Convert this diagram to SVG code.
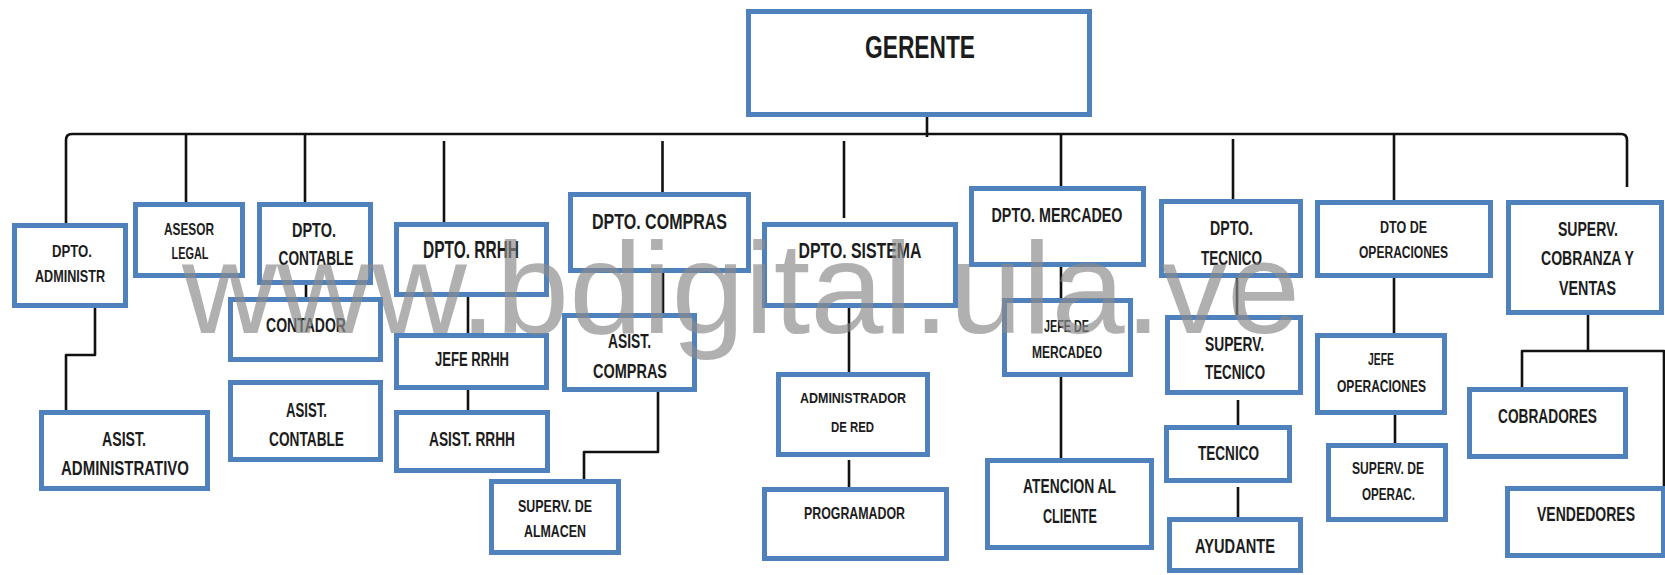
<svg xmlns="http://www.w3.org/2000/svg" width="1665" height="575" viewBox="0 0 1665 575">
<style>
.box{fill:#ffffff;stroke:#4f81bd;stroke-width:5}
.ln{fill:none;stroke:#111111;stroke-width:2.6;stroke-linejoin:round}
.t{font-family:"Liberation Sans",Arial,sans-serif;font-weight:bold;fill:#1c1c1c;text-anchor:middle}
.wm{font-family:"Liberation Sans",Arial,sans-serif;font-size:130px;fill:#8a8a8a;fill-opacity:0.68}
</style>
<rect width="1665" height="575" fill="#ffffff"/>
<g id="connectors">
<path class="ln" d="M66,223 V140 Q66,134 72,134 H1621 Q1627,134 1627,140 V187"/>
<path class="ln" d="M927,117 V137"/>
<path class="ln" d="M186,134 V203"/>
<path class="ln" d="M305,134 V203"/>
<path class="ln" d="M444,141 V223"/>
<path class="ln" d="M662.5,141 V193"/>
<path class="ln" d="M844,141 V218"/>
<path class="ln" d="M1061,134 V187"/>
<path class="ln" d="M1233,139 V200"/>
<path class="ln" d="M1394,134 V201"/>
<path class="ln" d="M95,307 V355 H66 V411"/>
<path class="ln" d="M306,283 V299"/>
<path class="ln" d="M468,297 V334"/>
<path class="ln" d="M468,385 V411"/>
<path class="ln" d="M663,273 V314"/>
<path class="ln" d="M658,392 V452 H584 V480"/>
<path class="ln" d="M849,307 V373"/>
<path class="ln" d="M849,460 V488"/>
<path class="ln" d="M1061,267 V299"/>
<path class="ln" d="M1061,377 V459"/>
<path class="ln" d="M1237,278 V316"/>
<path class="ln" d="M1238,400 V426"/>
<path class="ln" d="M1238,487 V518"/>
<path class="ln" d="M1394,278 V334"/>
<path class="ln" d="M1395,415 V444"/>
<path class="ln" d="M1588,314 V351 M1522,392 V351 H1664 V487"/>
</g>
<g id="gerente"><rect class="box" x="748.5" y="11.5" width="341" height="103"/><text class="t" x="920" y="58" font-size="32" textLength="110" lengthAdjust="spacingAndGlyphs">GERENTE</text></g>
<g id="dpto-administr"><rect class="box" x="14.5" y="225.5" width="111" height="80"/><text class="t" x="72" y="257" font-size="16.5" textLength="40" lengthAdjust="spacingAndGlyphs">DPTO.</text><text class="t" x="70" y="282" font-size="16.5" textLength="70" lengthAdjust="spacingAndGlyphs">ADMINISTR</text></g>
<g id="asesor-legal"><rect class="box" x="135.5" y="204.5" width="107" height="71"/><text class="t" x="189" y="235" font-size="16.5" textLength="50" lengthAdjust="spacingAndGlyphs">ASESOR</text><text class="t" x="190" y="259" font-size="16.5" textLength="37" lengthAdjust="spacingAndGlyphs">LEGAL</text></g>
<g id="dpto-contable"><rect class="box" x="259.5" y="204.5" width="111" height="78"/><text class="t" x="314" y="237" font-size="19.5" textLength="44" lengthAdjust="spacingAndGlyphs">DPTO.</text><text class="t" x="316" y="265" font-size="19.5" textLength="75" lengthAdjust="spacingAndGlyphs">CONTABLE</text></g>
<g id="dpto-rrhh"><rect class="box" x="396.5" y="224.5" width="150" height="70"/><text class="t" x="471" y="258" font-size="23" textLength="96" lengthAdjust="spacingAndGlyphs">DPTO. RRHH</text></g>
<g id="dpto-compras"><rect class="box" x="570.5" y="194.5" width="178" height="76"/><text class="t" x="659.5" y="229" font-size="22" textLength="135" lengthAdjust="spacingAndGlyphs">DPTO. COMPRAS</text></g>
<g id="dpto-sistema"><rect class="box" x="764.5" y="224.5" width="191" height="81"/><text class="t" x="860" y="258" font-size="22" textLength="123" lengthAdjust="spacingAndGlyphs">DPTO. SISTEMA</text></g>
<g id="dpto-mercadeo"><rect class="box" x="971.5" y="188.5" width="172" height="76"/><text class="t" x="1057" y="222" font-size="21" textLength="131" lengthAdjust="spacingAndGlyphs">DPTO. MERCADEO</text></g>
<g id="dpto-tecnico"><rect class="box" x="1161.5" y="201.5" width="139" height="74"/><text class="t" x="1231.5" y="235" font-size="19.5" textLength="43" lengthAdjust="spacingAndGlyphs">DPTO.</text><text class="t" x="1231.5" y="265" font-size="19.5" textLength="61" lengthAdjust="spacingAndGlyphs">TECNICO</text></g>
<g id="dto-operaciones"><rect class="box" x="1317.5" y="202.5" width="173" height="73"/><text class="t" x="1403.5" y="233" font-size="16" textLength="47" lengthAdjust="spacingAndGlyphs">DTO DE</text><text class="t" x="1403.5" y="258" font-size="16" textLength="89" lengthAdjust="spacingAndGlyphs">OPERACIONES</text></g>
<g id="superv-cobranza"><rect class="box" x="1508.5" y="202.5" width="153" height="110"/><text class="t" x="1588" y="236" font-size="20" textLength="60" lengthAdjust="spacingAndGlyphs">SUPERV.</text><text class="t" x="1587.5" y="265" font-size="20" textLength="93" lengthAdjust="spacingAndGlyphs">COBRANZA Y</text><text class="t" x="1587.5" y="295" font-size="20" textLength="57" lengthAdjust="spacingAndGlyphs">VENTAS</text></g>
<g id="asist-administrativo"><rect class="box" x="41.5" y="412.5" width="166" height="76"/><text class="t" x="124" y="446" font-size="19.5" textLength="44" lengthAdjust="spacingAndGlyphs">ASIST.</text><text class="t" x="125" y="475" font-size="19.5" textLength="128" lengthAdjust="spacingAndGlyphs">ADMINISTRATIVO</text></g>
<g id="contador"><rect class="box" x="230.5" y="299.5" width="150" height="60"/><text class="t" x="306" y="332" font-size="19.5" textLength="80" lengthAdjust="spacingAndGlyphs">CONTADOR</text></g>
<g id="asist-contable"><rect class="box" x="230.5" y="382.5" width="150" height="77"/><text class="t" x="306.5" y="417" font-size="19.5" textLength="41" lengthAdjust="spacingAndGlyphs">ASIST.</text><text class="t" x="306.5" y="446" font-size="19.5" textLength="75" lengthAdjust="spacingAndGlyphs">CONTABLE</text></g>
<g id="jefe-rrhh"><rect class="box" x="396.5" y="335.5" width="150" height="52"/><text class="t" x="472" y="366" font-size="19.5" textLength="74" lengthAdjust="spacingAndGlyphs">JEFE RRHH</text></g>
<g id="asist-rrhh"><rect class="box" x="396.5" y="412.5" width="151" height="58"/><text class="t" x="472" y="446" font-size="19.5" textLength="86" lengthAdjust="spacingAndGlyphs">ASIST. RRHH</text></g>
<g id="asist-compras"><rect class="box" x="564.5" y="315.5" width="130" height="74"/><text class="t" x="629.5" y="348" font-size="19.5" textLength="43" lengthAdjust="spacingAndGlyphs">ASIST.</text><text class="t" x="630" y="378" font-size="19.5" textLength="74" lengthAdjust="spacingAndGlyphs">COMPRAS</text></g>
<g id="superv-almacen"><rect class="box" x="491.5" y="481.5" width="127" height="71"/><text class="t" x="555" y="512" font-size="17" textLength="74" lengthAdjust="spacingAndGlyphs">SUPERV. DE</text><text class="t" x="555" y="537" font-size="17" textLength="62" lengthAdjust="spacingAndGlyphs">ALMACEN</text></g>
<g id="administrador-red"><rect class="box" x="778.5" y="374.5" width="149" height="80"/><text class="t" x="853" y="403" font-size="15.5" textLength="106" lengthAdjust="spacingAndGlyphs">ADMINISTRADOR</text><text class="t" x="852.5" y="432" font-size="15.5" textLength="43" lengthAdjust="spacingAndGlyphs">DE RED</text></g>
<g id="programador"><rect class="box" x="764.5" y="489.5" width="182" height="69"/><text class="t" x="854.5" y="519" font-size="16.5" textLength="101" lengthAdjust="spacingAndGlyphs">PROGRAMADOR</text></g>
<g id="jefe-mercadeo"><rect class="box" x="1004.5" y="300.5" width="126" height="74"/><text class="t" x="1066.5" y="332" font-size="16.5" textLength="45" lengthAdjust="spacingAndGlyphs">JEFE DE</text><text class="t" x="1067" y="358" font-size="16.5" textLength="70" lengthAdjust="spacingAndGlyphs">MERCADEO</text></g>
<g id="atencion-cliente"><rect class="box" x="987.5" y="460.5" width="164" height="87"/><text class="t" x="1069.5" y="493" font-size="20" textLength="93" lengthAdjust="spacingAndGlyphs">ATENCION AL</text><text class="t" x="1070" y="523" font-size="20" textLength="54" lengthAdjust="spacingAndGlyphs">CLIENTE</text></g>
<g id="superv-tecnico"><rect class="box" x="1167.5" y="317.5" width="133" height="75"/><text class="t" x="1234.5" y="351" font-size="19.5" textLength="59" lengthAdjust="spacingAndGlyphs">SUPERV.</text><text class="t" x="1235" y="379" font-size="19.5" textLength="60" lengthAdjust="spacingAndGlyphs">TECNICO</text></g>
<g id="tecnico"><rect class="box" x="1166.5" y="427.5" width="123" height="53"/><text class="t" x="1228.5" y="460" font-size="19.5" textLength="61" lengthAdjust="spacingAndGlyphs">TECNICO</text></g>
<g id="ayudante"><rect class="box" x="1169.5" y="519.5" width="131" height="51"/><text class="t" x="1235" y="553" font-size="19.5" textLength="80" lengthAdjust="spacingAndGlyphs">AYUDANTE</text></g>
<g id="jefe-operaciones"><rect class="box" x="1317.5" y="335.5" width="127" height="77"/><text class="t" x="1381" y="365" font-size="16.5" textLength="26" lengthAdjust="spacingAndGlyphs">JEFE</text><text class="t" x="1381.5" y="392" font-size="16.5" textLength="89" lengthAdjust="spacingAndGlyphs">OPERACIONES</text></g>
<g id="superv-operac"><rect class="box" x="1328.5" y="445.5" width="117" height="74"/><text class="t" x="1388" y="474" font-size="16.5" textLength="72" lengthAdjust="spacingAndGlyphs">SUPERV. DE</text><text class="t" x="1388.5" y="500" font-size="16.5" textLength="53" lengthAdjust="spacingAndGlyphs">OPERAC.</text></g>
<g id="cobradores"><rect class="box" x="1469.5" y="389.5" width="156" height="67"/><text class="t" x="1547.5" y="423" font-size="20" textLength="99" lengthAdjust="spacingAndGlyphs">COBRADORES</text></g>
<g id="vendedores"><rect class="box" x="1507.5" y="488.5" width="156" height="67"/><text class="t" x="1586" y="521" font-size="20" textLength="98" lengthAdjust="spacingAndGlyphs">VENDEDORES</text></g>
<g id="watermark"><text class="wm" x="182" y="333" textLength="1118" lengthAdjust="spacingAndGlyphs">www.bdigital.ula.ve</text></g>
</svg>
